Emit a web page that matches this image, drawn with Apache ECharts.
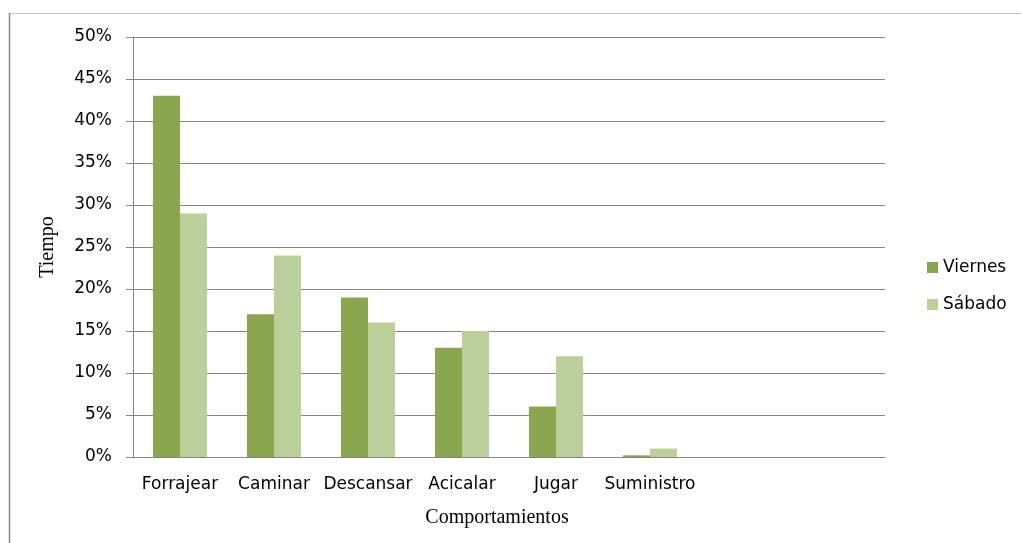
<!DOCTYPE html>
<html>
<head>
<meta charset="utf-8">
<script src="https://cdn.jsdelivr.net/npm/echarts@6/dist/echarts.min.js"></script>
<style>
  html, body { margin: 0; padding: 0; background: #fff; }
  #chart { width: 1022px; height: 543px; }
</style>
</head>
<body>
<div id="chart"></div>
<script>
// categories (two empty slots at the end, as in the original sheet)
const categories = ["Forrajear", "Caminar", "Descansar", "Acicalar", "Jugar", "Suministro", "", ""];
const viernes = [43, 17, 19, 13, 6, 0.2, null, null];
const sabado = [29, 24, 16, 15, 12, 1, null, null];

const chart = echarts.init(document.getElementById("chart"));

const option = {
  backgroundColor: "#fff",
  animation: false,
  grid: { left: 133, right: 137, top: 37, bottom: 86 },
  legend: {
    orient: "vertical",
    left: 922,
    top: 254,
    itemWidth: 11,
    itemHeight: 11,
    itemGap: 20,
    icon: "rect",
    textStyle: { fontFamily: "DejaVu Sans", fontSize: 17, color: "#000" },
    data: ["Viernes", "Sábado"],
  },
  xAxis: {
    type: "category",
    data: categories,
    name: "Comportamientos",
    nameLocation: "middle",
    nameGap: 51,
    nameTextStyle: {
      fontFamily: "Liberation Serif",
      fontSize: 20,
      color: "#000",
      padding: [0, 24, 0, 0],
    },
    axisLine: { lineStyle: { color: "#868686" } },
    axisTick: { show: false },
    axisLabel: {
      fontFamily: "DejaVu Sans",
      fontSize: 17,
      color: "#000",
      margin: 19,
      interval: 0,
    },
  },
  yAxis: {
    type: "value",
    min: 0,
    max: 50,
    interval: 5,
    name: "Tiempo",
    nameLocation: "middle",
    nameGap: 75,
    nameTextStyle: { fontFamily: "Liberation Serif", fontSize: 20, color: "#000" },
    axisLine: { show: true, lineStyle: { color: "#868686" } },
    axisTick: { show: true, length: 7, lineStyle: { color: "#868686" } },
    splitLine: { lineStyle: { color: "#868686" } },
    axisLabel: {
      fontFamily: "DejaVu Sans",
      fontSize: 17,
      color: "#000",
      margin: 21,
      formatter: "{value}%",
    },
  },
  series: [
    {
      name: "Viernes",
      type: "bar",
      data: viernes,
      barWidth: 27,
      barGap: "0%",
      itemStyle: { color: "#8AA64F" },
    },
    {
      name: "Sábado",
      type: "bar",
      data: sabado,
      barWidth: 27,
      barGap: "0%",
      itemStyle: { color: "#BACF99" },
    },
  ],
  graphic: [
    {
      type: "line",
      shape: { x1: 9, y1: 13.5, x2: 1021, y2: 13.5 },
      style: { stroke: "#c8c8c8", lineWidth: 1 },
    },
    {
      type: "line",
      shape: { x1: 9.5, y1: 13, x2: 9.5, y2: 543 },
      style: { stroke: "#888", lineWidth: 1.5 },
    },
  ],
};

chart.setOption(option);
</script>
</body>
</html>
